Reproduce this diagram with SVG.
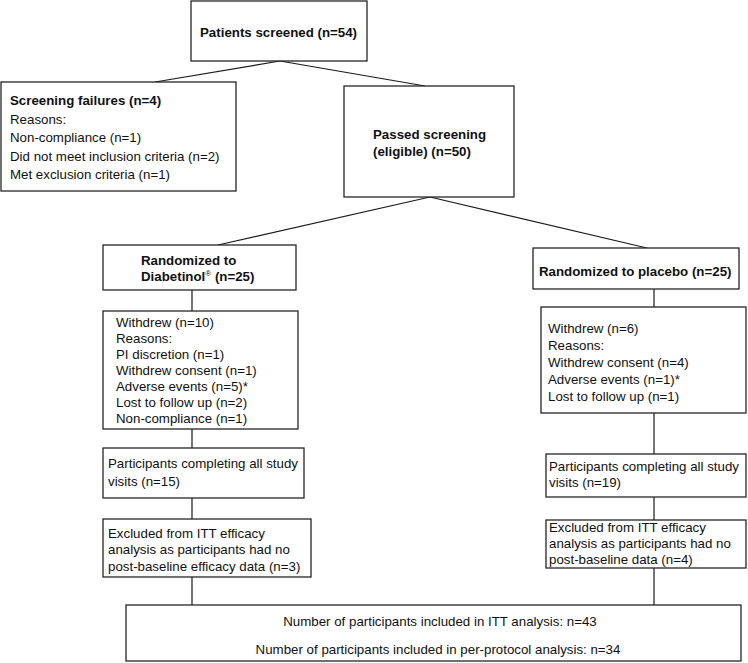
<svg xmlns="http://www.w3.org/2000/svg" width="748" height="663" viewBox="0 0 748 663">
<style>
rect{fill:#fff;stroke:#262626;stroke-width:1.3}
line{stroke:#1a1a1a;stroke-width:1.2}
text{font-family:"Liberation Sans",Arial,sans-serif;font-size:13.3px;fill:#111}
.b{font-weight:bold}
</style>
<rect x="0" y="0" width="748" height="663" style="fill:#fff;stroke:none"/>
<g id="connectors">
<line x1="280" y1="61" x2="155" y2="82"/>
<line x1="280" y1="61" x2="425" y2="86"/>
<line x1="430" y1="197" x2="218" y2="245"/>
<line x1="430" y1="197" x2="647" y2="248"/>
<line x1="192" y1="290" x2="192" y2="311"/>
<line x1="192" y1="429" x2="192" y2="448"/>
<line x1="192" y1="498" x2="192" y2="519"/>
<line x1="192" y1="577" x2="192" y2="605"/>
<line x1="654" y1="289" x2="654" y2="307"/>
<line x1="654" y1="413" x2="654" y2="454"/>
<line x1="654" y1="497" x2="654" y2="520"/>
<line x1="654" y1="568" x2="654" y2="605"/>
</g>
<g id="screened">
<rect x="191" y="1" width="176" height="60"/>
<text class="b" x="200" y="37">Patients screened (n=54)</text>
</g>
<g id="failures">
<rect x="1" y="82" width="235" height="109"/>
<text class="b" x="10" y="105">Screening failures (n=4)</text>
<text x="10" y="123.5">Reasons:</text>
<text x="10" y="142">Non-compliance (n=1)</text>
<text x="10" y="160.5">Did not meet inclusion criteria (n=2)</text>
<text x="10" y="179">Met exclusion criteria (n=1)</text>
</g>
<g id="passed">
<rect x="344" y="86" width="170" height="111"/>
<text class="b" x="373" y="139">Passed screening</text>
<text class="b" x="373" y="156">(eligible) (n=50)</text>
</g>
<g id="rand-diabetinol">
<rect x="103" y="245" width="193" height="45"/>
<text class="b" x="141" y="265">Randomized to</text>
<text class="b" x="141" y="281">Diabetinol<tspan font-size="8" font-weight="normal" dy="-5">®</tspan><tspan dy="5"> (n=25)</tspan></text>
</g>
<g id="withdrew-diabetinol">
<rect x="103" y="311" width="195" height="118"/>
<text x="116" y="327">Withdrew (n=10)</text>
<text x="116" y="343">Reasons:</text>
<text x="116" y="359">PI discretion (n=1)</text>
<text x="116" y="375">Withdrew consent (n=1)</text>
<text x="116" y="391">Adverse events (n=5)*</text>
<text x="116" y="407">Lost to follow up (n=2)</text>
<text x="116" y="423">Non-compliance (n=1)</text>
</g>
<g id="complete-diabetinol">
<rect x="103" y="448" width="201" height="50"/>
<text x="108" y="468">Participants completing all study</text>
<text x="108" y="486">visits (n=15)</text>
</g>
<g id="excluded-diabetinol">
<rect x="103" y="519" width="208" height="58"/>
<text x="108" y="538">Excluded from ITT efficacy</text>
<text x="108" y="554">analysis as participants had no</text>
<text x="108" y="571">post-baseline efficacy data (n=3)</text>
</g>
<g id="rand-placebo">
<rect x="533" y="248" width="206" height="41"/>
<text class="b" x="539" y="276">Randomized to placebo (n=25)</text>
</g>
<g id="withdrew-placebo">
<rect x="541" y="307" width="205" height="106"/>
<text x="548" y="332.5">Withdrew (n=6)</text>
<text x="548" y="349.5">Reasons:</text>
<text x="548" y="366.5">Withdrew consent (n=4)</text>
<text x="548" y="383.5">Adverse events (n=1)*</text>
<text x="548" y="400.5">Lost to follow up (n=1)</text>
</g>
<g id="complete-placebo">
<rect x="546" y="454" width="200" height="43"/>
<text x="549" y="471">Participants completing all study</text>
<text x="549" y="487">visits (n=19)</text>
</g>
<g id="excluded-placebo">
<rect x="546" y="520" width="200" height="48"/>
<text x="549" y="532">Excluded from ITT efficacy</text>
<text x="549" y="548">analysis as participants had no</text>
<text x="549" y="564">post-baseline data (n=4)</text>
</g>
<g id="totals">
<rect x="126" y="605" width="615" height="56"/>
<text x="440" y="626" text-anchor="middle">Number of participants included in ITT analysis: n=43</text>
<text x="438" y="654" text-anchor="middle">Number of participants included in per-protocol analysis: n=34</text>
</g>
</svg>
